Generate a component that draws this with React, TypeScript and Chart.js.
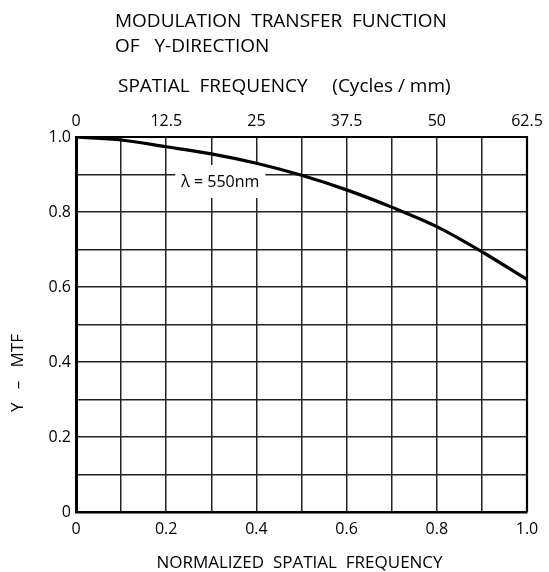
import React, { useEffect, useRef } from "react";
import { Chart, registerables } from "chart.js";

Chart.register(...registerables);

// ---- data ----
const normFreq = [0, 0.1, 0.2, 0.3, 0.4, 0.5, 0.6, 0.7, 0.8, 0.9, 1.0];
const mtfY = [1.0, 0.992, 0.974, 0.955, 0.93, 0.898, 0.859, 0.813, 0.761, 0.694, 0.62];
const cyclesMax = 62.5;
const cyclesStep = 12.5;
const titleLines = ["MODULATION  TRANSFER  FUNCTION", "OF   Y-DIRECTION"];
const topAxisTitle = "SPATIAL  FREQUENCY     (Cycles / mm)";
const bottomAxisTitle = "NORMALIZED  SPATIAL  FREQUENCY";
const yAxisTitle = "Y   \u2013   MTF";
const curveLabel = "\u03bb = 550nm";
const curveLabelPos = { x: 0.32, y: 0.88 };

const FONT = "'Open Sans', 'Noto Sans', sans-serif";

const fmtTenths = (v: number) => {
  const k = Math.round(v * 10);
  if (k % 2 !== 0) return "";
  if (k === 0) return "0";
  return (k / 10).toFixed(1);
};

export default function App() {
  const ref = useRef<HTMLCanvasElement | null>(null);

  useEffect(() => {
    if (!ref.current) return;
    const textPlugin = {
      id: "textPlugin",
      beforeDatasetsDraw(chart: any) {
        const { ctx, chartArea, scales } = chart;
        ctx.save();
        // frame top/right
        ctx.strokeStyle = "#000";
        ctx.lineWidth = 2.2;
        ctx.beginPath();
        ctx.moveTo(chartArea.left, chartArea.top);
        ctx.lineTo(chartArea.right, chartArea.top);
        ctx.lineTo(chartArea.right, chartArea.bottom);
        ctx.stroke();
        // curve label with white box
        const px = scales.x.getPixelForValue(curveLabelPos.x);
        const py = scales.y.getPixelForValue(curveLabelPos.y);
        ctx.font = `16px ${FONT}`;
        const w = ctx.measureText(curveLabel).width;
        ctx.fillStyle = "#fff";
        ctx.fillRect(px - w / 2 - 6, py - 17, w + 12, 33);
        ctx.fillStyle = "#000";
        ctx.textAlign = "center";
        ctx.textBaseline = "middle";
        ctx.fillText(curveLabel, px, py);
        ctx.restore();
      },
      afterDraw(chart: any) {
        const { ctx, chartArea } = chart;
        ctx.save();
        ctx.fillStyle = "#000";
        ctx.textBaseline = "middle";
        ctx.textAlign = "left";
        ctx.font = `19px ${FONT}`;
        ctx.fillText(titleLines[0], 115, 22);
        ctx.fillText(titleLines[1], 115, 47);
        ctx.fillText(topAxisTitle, 118, 87);
        ctx.font = `17px ${FONT}`;
        ctx.textAlign = "center";
        ctx.fillText(bottomAxisTitle, (chartArea.left + chartArea.right) / 2 - 2, 563);
        ctx.translate(18, 373);
        ctx.rotate(-Math.PI / 2);
        ctx.fillText(yAxisTitle, 0, 0);
        ctx.restore();
      },
    };

    const chart = new Chart(ref.current, {
      type: "line",
      data: {
        datasets: [
          {
            data: normFreq.map((x, i) => ({ x, y: mtfY[i] })),
            borderColor: "#000",
            borderWidth: 3.2,
            pointRadius: 0,
            tension: 0.3,
            cubicInterpolationMode: "monotone",
            fill: false,
          },
        ],
      },
      options: {
        responsive: false,
        animation: false,
        devicePixelRatio: 1,
        layout: { padding: { top: 100, right: 22, left: 0, bottom: 0 } },
        plugins: { legend: { display: false }, tooltip: { enabled: false } },
        scales: {
          x: {
            type: "linear",
            position: "bottom",
            min: 0,
            max: 1,
            ticks: {
              stepSize: 0.1,
              autoSkip: false,
              maxRotation: 0,
              padding: 8,
              color: "#000",
              font: { family: FONT, size: 16 },
              callback: (v: any) => fmtTenths(Number(v)),
            },
            grid: { color: "#222", lineWidth: 1.5, drawTicks: false },
            border: { color: "#000", width: 2.6 },
            afterFit: (s: any) => {
              s.height = 60;
            },
          },
          x2: {
            type: "linear",
            position: "top",
            min: 0,
            max: cyclesMax,
            ticks: {
              stepSize: cyclesStep,
              autoSkip: false,
              maxRotation: 0,
              padding: 6,
              color: "#000",
              font: { family: FONT, size: 16 },
              callback: (v: any) => String(v),
            },
            grid: { display: false, drawTicks: false },
            border: { display: false },
            afterFit: (s: any) => {
              s.height = 37;
            },
          },
          y: {
            type: "linear",
            min: 0,
            max: 1,
            ticks: {
              stepSize: 0.1,
              autoSkip: false,
              padding: 5,
              color: "#000",
              font: { family: FONT, size: 16 },
              callback: (v: any) => fmtTenths(Number(v)),
            },
            grid: { color: "#222", lineWidth: 1.5, drawTicks: false },
            border: { color: "#000", width: 3 },
            afterFit: (s: any) => {
              s.width = 76;
            },
          },
        },
      } as any,
      plugins: [textPlugin],
    });
    return () => chart.destroy();
  }, []);

  return (
    <div style={{ position: "absolute", left: 0, top: 0, width: 549, height: 572, background: "#fff" }}>
      <canvas ref={ref} width={549} height={572} style={{ display: "block" }} />
    </div>
  );
}
